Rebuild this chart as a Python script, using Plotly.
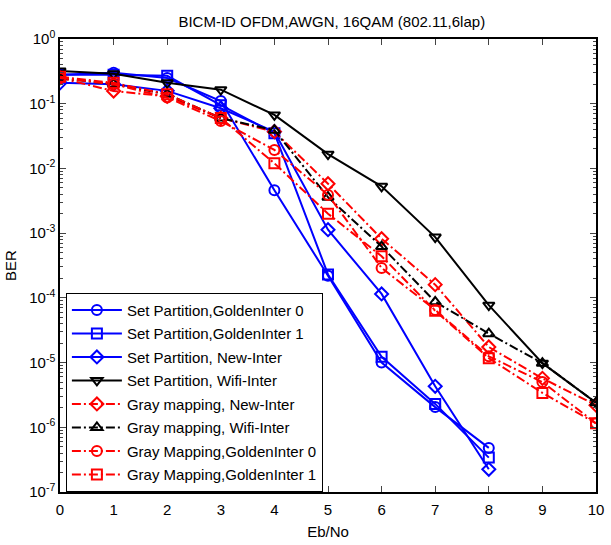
import plotly.graph_objects as go

x_full = [0, 1, 2, 3, 4, 5, 6, 7, 8, 9, 10]
x_short = [0, 1, 2, 3, 4, 5, 6, 7, 8]

sp_golden0 = [0.28, 0.30, 0.25, 0.11, 0.0046, 0.00022, 1.0e-5, 2.05e-6, 4.8e-7]
sp_golden1 = [0.28, 0.28, 0.27, 0.095, 0.035, 0.00023, 1.23e-5, 2.3e-6, 3.4e-7]
sp_new = [0.21, 0.20, 0.158, 0.085, 0.037, 0.00113, 0.000115, 4.3e-6, 2.24e-7]
sp_wifi = [0.32, 0.29, 0.21, 0.165, 0.067, 0.0166, 0.0053, 0.00087, 7.7e-5, 9.8e-6, 2.4e-6]
gray_new = [0.25, 0.157, 0.13, 0.06, 0.037, 0.0058, 0.00082, 0.00016, 1.74e-5, 5.7e-6, 2.2e-6]
gray_wifi = [0.25, 0.20, 0.14, 0.06, 0.039, 0.0036, 0.00062, 8.7e-5, 2.8e-5, 9.8e-6, 2.4e-6]
gray_golden0 = [0.25, 0.20, 0.125, 0.054, 0.0193, 0.0039, 0.00029, 6.5e-5, 1.25e-5, 5.0e-6, 1.15e-6]
gray_golden1 = [0.26, 0.21, 0.14, 0.06, 0.012, 0.002, 0.00044, 6.3e-5, 1.17e-5, 3.4e-6, 1.15e-6]

names = [
    "Set Partition,GoldenInter 0",
    "Set Partition,GoldenInter 1",
    "Set Partition, New-Inter",
    "Set Partition, Wifi-Inter",
    "Gray mapping, New-Inter",
    "Gray mapping, Wifi-Inter",
    "Gray Mapping,GoldenInter 0",
    "Gray Mapping,GoldenInter 1",
]

y_tick_vals = [1e0, 1e-1, 1e-2, 1e-3, 1e-4, 1e-5, 1e-6, 1e-7]
y_tick_text = ["10<sup>0</sup>", "10<sup>-1</sup>", "10<sup>-2</sup>", "10<sup>-3</sup>",
               "10<sup>-4</sup>", "10<sup>-5</sup>", "10<sup>-6</sup>", "10<sup>-7</sup>"]
x_tick_vals = [0, 1, 2, 3, 4, 5, 6, 7, 8, 9, 10]

DASHDOT = "9px,3px,2px,3px"
series = [
    (x_short, sp_golden0, "#0000ff", "circle-open", "solid"),
    (x_short, sp_golden1, "#0000ff", "square-open", "solid"),
    (x_short, sp_new, "#0000ff", "diamond-open", "solid"),
    (x_full, sp_wifi, "#000000", "triangle-down-open", "solid"),
    (x_full, gray_new, "#ff0000", "diamond-open", DASHDOT),
    (x_full, gray_wifi, "#000000", "triangle-up-open", DASHDOT),
    (x_full, gray_golden0, "#ff0000", "circle-open", DASHDOT),
    (x_full, gray_golden1, "#ff0000", "square-open", DASHDOT),
]

fig = go.Figure()
for i, (xs, ys, col, sym, dash) in enumerate(series):
    fig.add_trace(go.Scatter(
        x=xs, y=ys, name=names[i], mode="lines+markers",
        legendgroup=f"g{i}",
        line=dict(color=col, width=2, dash=dash),
        marker=dict(symbol=sym, size=10, color=col, line=dict(width=2, color=col)),
    ))

minor_vals = []
for e in range(-7, 0):
    for m in range(2, 10):
        minor_vals.append(m * 10 ** e)

fig.update_layout(
    width=611, height=545,
    margin=dict(l=60, r=7, t=39, b=46),
    paper_bgcolor="white", plot_bgcolor="white",
    font=dict(family="Liberation Sans, Arial, sans-serif", size=15, color="black"),
    title=dict(text="BICM-ID OFDM,AWGN, 16QAM (802.11,6lap)", x=0.543, xanchor="center",
               y=0.961, yanchor="middle", font=dict(size=15)),
    showlegend=True,
    legend=dict(x=0.011, y=0.44, xanchor="left", yanchor="top",
                bordercolor="black", borderwidth=1, bgcolor="white",
                traceorder="grouped", tracegroupgap=1, itemwidth=50,
                font=dict(size=15)),
    xaxis=dict(range=[0, 10], tickvals=x_tick_vals, ticks="inside", ticklen=6,
               ticklabelstandoff=3,
               showline=True, linecolor="black", linewidth=1.5, mirror="allticks",
               showgrid=False, zeroline=False,
               title=dict(text="Eb/No", standoff=10, font=dict(size=15))),
    yaxis=dict(type="log", range=[-7, 0], tickvals=y_tick_vals, ticktext=y_tick_text,
               ticks="inside", ticklen=6,
               showline=True, linecolor="black", linewidth=1.5, mirror="allticks",
               showgrid=False, zeroline=False,
               minor=dict(ticks="inside", ticklen=3, tickvals=minor_vals, showgrid=False),
               title=dict(text="BER", standoff=9, font=dict(size=15))),
)

fig.write_html("out.html")
